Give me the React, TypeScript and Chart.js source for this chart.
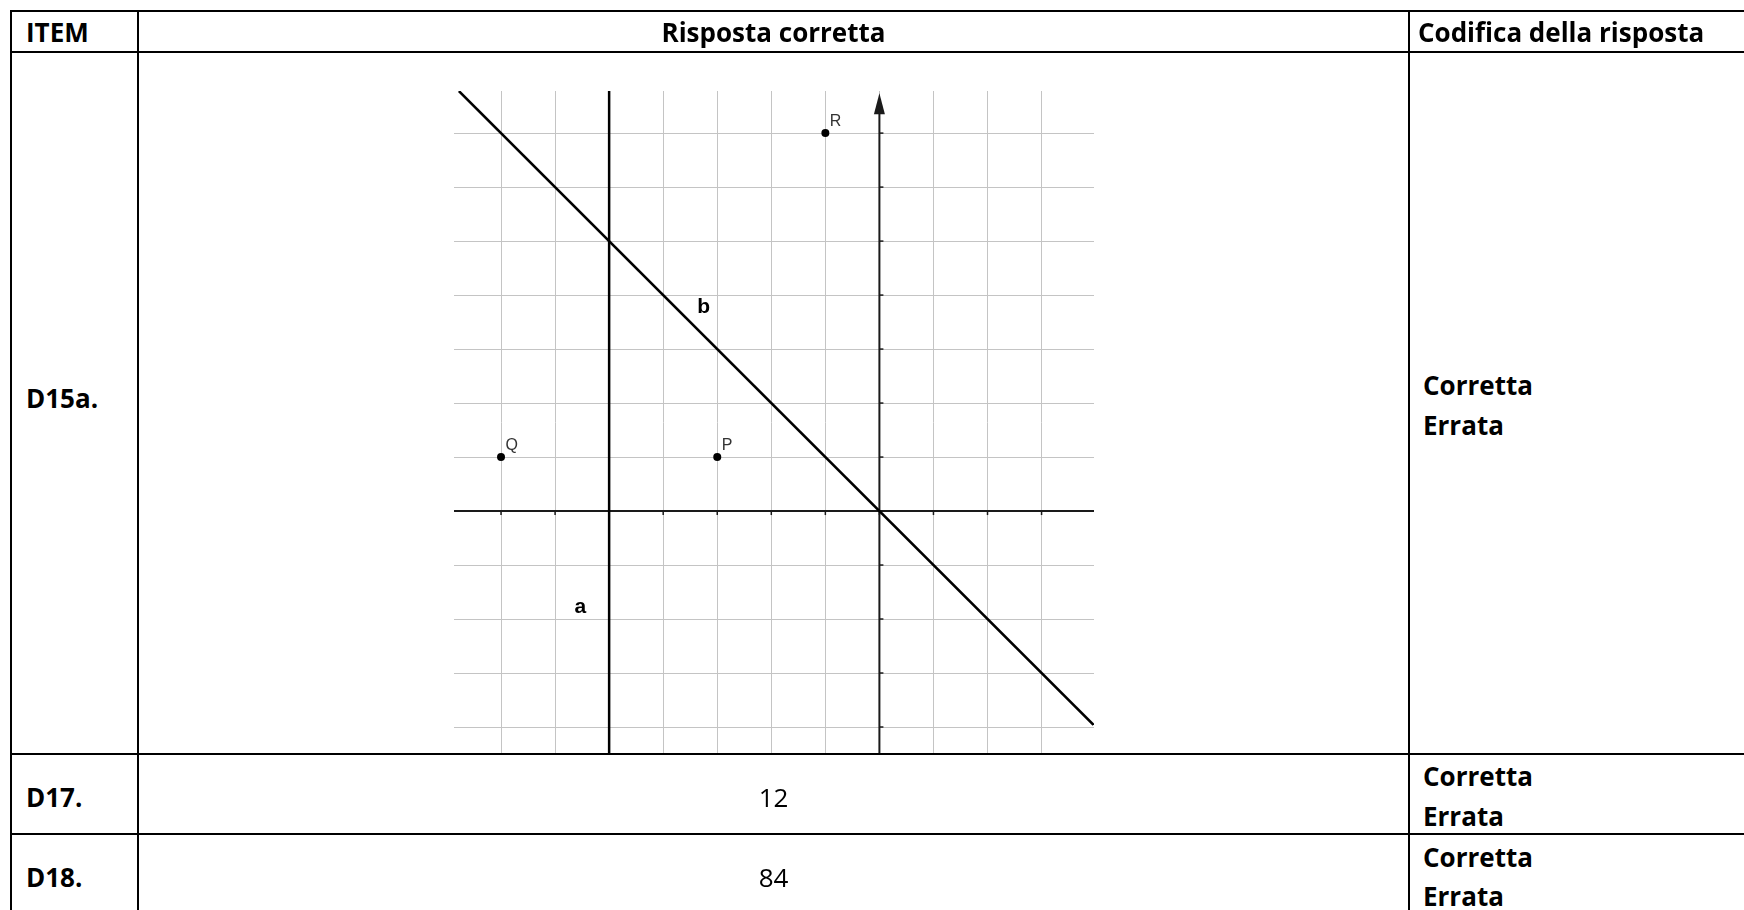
import React, { useEffect, useRef } from "react";
import { Chart, registerables } from "chart.js";

Chart.register(...registerables);

// ---- table data ----
const headers = ["ITEM", "Risposta corretta", "Codifica della risposta"];
const items = ["D15a.", "D17.", "D18."];
const answers = ["", "12", "84"];
const codes = ["Corretta", "Errata"];

// ---- chart data ----
const pointNames = ["Q", "P", "R"];
const pointX = [-7, -3, -1];
const pointY = [1, 1, 7];
const lineBX = [-7.78, 3.96];
const lineBY = [7.78, -3.96];
const lineAX = [-5, -5];
const lineAY = [7.78, -4.5];
const lineNames = ["a", "b"];
const lineNameX = [-5.64, -3.37];
const lineNameY = [-1.89, 3.67];
const xRange = [-7.87, 3.97];
const yRange = [-4.5, 7.78];
const arrowTipY = 7.74;

const geoPlugin = {
  id: "geo",
  beforeDatasetsDraw(chart: any) {
    const { ctx, chartArea, scales } = chart;
    const xs = scales.x;
    const ys = scales.y;
    const x0 = xs.getPixelForValue(0);
    const y0 = ys.getPixelForValue(0);
    ctx.save();
    ctx.strokeStyle = "#1a1a1a";
    ctx.fillStyle = "#1a1a1a";
    ctx.lineWidth = 2;
    // x axis
    ctx.beginPath();
    ctx.moveTo(chartArea.left, y0);
    ctx.lineTo(chartArea.right, y0);
    ctx.stroke();
    // y axis
    const tip = ys.getPixelForValue(arrowTipY);
    ctx.beginPath();
    ctx.moveTo(x0, chartArea.bottom);
    ctx.lineTo(x0, tip + 18);
    ctx.stroke();
    ctx.beginPath();
    ctx.moveTo(x0, tip);
    ctx.lineTo(x0 - 5.5, tip + 21);
    ctx.lineTo(x0 + 5.5, tip + 21);
    ctx.closePath();
    ctx.fill();
    // ticks
    ctx.lineWidth = 1.5;
    xs.ticks.forEach((t: any) => {
      const px = xs.getPixelForValue(t.value);
      ctx.beginPath();
      ctx.moveTo(px, y0);
      ctx.lineTo(px, y0 + 4);
      ctx.stroke();
    });
    ys.ticks.forEach((t: any) => {
      if (t.value > arrowTipY - 0.5) return;
      const py = ys.getPixelForValue(t.value);
      ctx.beginPath();
      ctx.moveTo(x0, py);
      ctx.lineTo(x0 + 4, py);
      ctx.stroke();
    });
    ctx.restore();
  },
  afterDatasetsDraw(chart: any) {
    const { ctx, scales } = chart;
    const xs = scales.x;
    const ys = scales.y;
    ctx.save();
    ctx.textBaseline = "alphabetic";
    ctx.textAlign = "left";
    ctx.fillStyle = "#333";
    ctx.font = "16px 'Liberation Sans', Arial, sans-serif";
    pointNames.forEach((n, i) => {
      ctx.fillText(n, xs.getPixelForValue(pointX[i]) + 4.5, ys.getPixelForValue(pointY[i]) - 7);
    });
    ctx.fillStyle = "#000";
    ctx.font = "bold 21px 'Liberation Sans', Arial, sans-serif";
    lineNames.forEach((n, i) => {
      ctx.fillText(n, xs.getPixelForValue(lineNameX[i]), ys.getPixelForValue(lineNameY[i]));
    });
    ctx.restore();
  },
};

function GeoChart() {
  const ref = useRef<HTMLCanvasElement>(null);
  useEffect(() => {
    if (!ref.current) return;
    const gridOpts = {
      color: "#c4c4c4",
      lineWidth: 1,
      drawTicks: false,
    };
    const chart = new Chart(ref.current, {
      type: "scatter",
      data: {
        datasets: [
          {
            data: lineBX.map((x, i) => ({ x, y: lineBY[i] })),
            showLine: true,
            borderColor: "#000",
            borderWidth: 2.5,
            pointRadius: 0,
          },
          {
            data: lineAX.map((x, i) => ({ x, y: lineAY[i] })),
            showLine: true,
            borderColor: "#000",
            borderWidth: 2.5,
            pointRadius: 0,
          },
          {
            data: pointX.map((x, i) => ({ x, y: pointY[i] })),
            showLine: false,
            pointRadius: 4,
            pointBackgroundColor: "#000",
            pointBorderWidth: 0,
          },
        ],
      },
      options: {
        animation: false,
        responsive: false,
        maintainAspectRatio: false,
        layout: { padding: 0, autoPadding: false },
        plugins: { legend: { display: false }, tooltip: { enabled: false } },
        events: [],
        scales: {
          x: {
            type: "linear",
            min: xRange[0],
            max: xRange[1],
            ticks: { display: false, stepSize: 1, includeBounds: false },
            grid: gridOpts,
            border: { display: false },
          },
          y: {
            type: "linear",
            min: yRange[0],
            max: yRange[1],
            ticks: { display: false, stepSize: 1, includeBounds: false },
            grid: gridOpts,
            border: { display: false },
          },
        },
      },
      plugins: [geoPlugin],
    } as any);
    return () => chart.destroy();
  }, []);
  return (
    <canvas
      ref={ref}
      width={640}
      height={663}
      style={{ position: "absolute", left: 454, top: 91, width: 640, height: 663 }}
    />
  );
}

const FONT = "'Open Sans', Lato, sans-serif";
const FS = 26;

function Txt(props: { x?: number; y: number; w?: number; center?: boolean; bold?: boolean; children: any }) {
  const { x = 0, y, w, center, bold = true, children } = props;
  return (
    <div
      style={{
        position: "absolute",
        left: x,
        top: y - 23,
        width: w,
        textAlign: center ? "center" : "left",
        fontFamily: FONT,
        fontSize: FS,
        lineHeight: FS + "px",
        fontWeight: bold ? 700 : 400,
        color: "#000",
        whiteSpace: "nowrap",
      }}
    >
      {children}
    </div>
  );
}

function HLine({ y }: { y: number }) {
  return <div style={{ position: "absolute", left: 10, top: y - 1, width: 1734, height: 2, background: "#000" }} />;
}
function VLine({ x }: { x: number }) {
  return <div style={{ position: "absolute", left: x - 1, top: 10, width: 2, height: 900, background: "#000" }} />;
}

export default function App() {
  const rowBase = [408, 807, 887];
  const codeBase = [
    [395, 435],
    [786, 826],
    [867, 906],
  ];
  return (
    <div style={{ position: "absolute", left: 0, top: 0, width: 1744, height: 910, overflow: "hidden", background: "#fff" }}>
      <GeoChart />
      <HLine y={11} />
      <HLine y={52} />
      <HLine y={754} />
      <HLine y={834} />
      <VLine x={11} />
      <VLine x={138} />
      <VLine x={1409} />
      <Txt x={26} y={41.7}>{headers[0]}</Txt>
      <Txt x={138} w={1271} y={41.7} center>{headers[1]}</Txt>
      <Txt x={1418} y={41.7}>{headers[2]}</Txt>
      {items.map((it, i) => (
        <Txt key={"i" + i} x={26} y={rowBase[i]}>{it}</Txt>
      ))}
      {answers.map((a, i) =>
        a ? (
          <Txt key={"a" + i} x={138} w={1271} y={rowBase[i]} center bold={false}>{a}</Txt>
        ) : null
      )}
      {codeBase.map((pair, i) =>
        codes.map((c, j) => (
          <Txt key={"c" + i + j} x={1423} y={pair[j]}>{c}</Txt>
        ))
      )}
    </div>
  );
}
